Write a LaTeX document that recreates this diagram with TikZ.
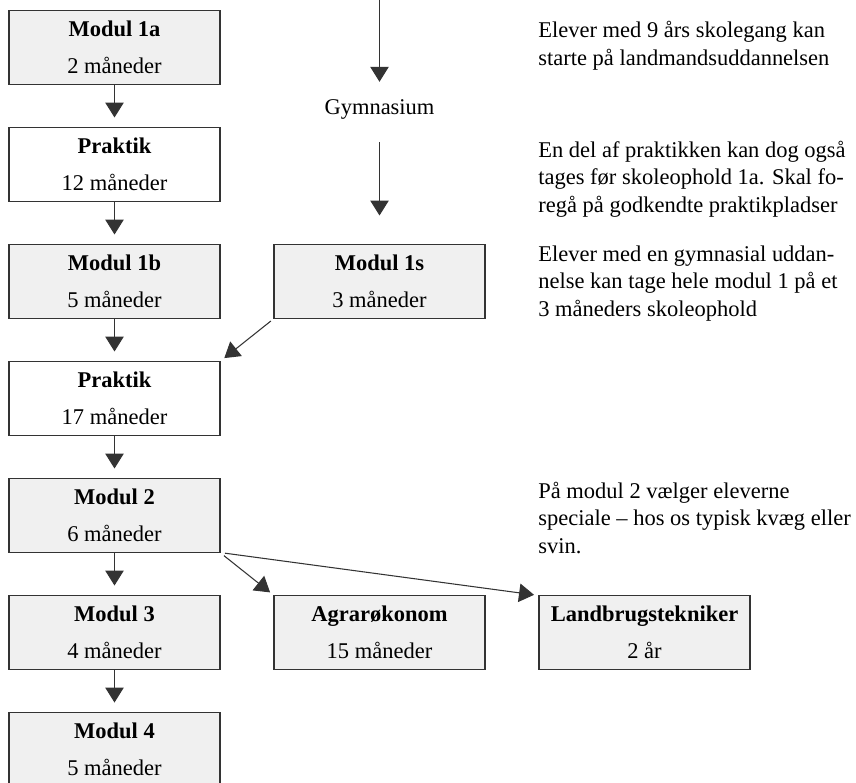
\documentclass[tikz,border=0pt]{standalone}
\usepackage{fontspec}
\setmainfont{Liberation Serif}
\usetikzlibrary{positioning,arrows.meta}
\definecolor{boxgray}{gray}{0.94}
\definecolor{linegray}{gray}{0.2}

\begin{document}
\begin{tikzpicture}[
		box/.style = {
			draw=linegray, rectangle, line width=0.7pt,
			minimum width=4.22cm,
			minimum height=1.48cm,
			outer sep=0cm,
			align=center,
			font=\fontsize{12.8}{15.5}\selectfont
			},
		greybox/.style = {box, fill=boxgray},
		note/.style = {anchor=base west, align=left, inner sep=0cm,
			font=\fontsize{12.8}{15.5}\selectfont},
		arr/.style = {-{Triangle[width=0.37cm,length=0.3cm]}, line width=0.6pt, draw=linegray},
		node distance=0.86cm and 1.08cm
		]
		\useasboundingbox (0,0) rectangle (17.12,-15.64);
		
		% left column
		\node [greybox] (m1a) at (2.29,-0.95) {\textbf{Modul 1a}\\[5.5pt]2 måneder};
		\node [box, below=of m1a] (p1) {\textbf{Praktik}\\[5.5pt]12 måneder};
		\node [greybox, below=of p1] (m1b) {\textbf{Modul 1b}\\[5.5pt]5 måneder};
		\node [box, below=of m1b] (p2) {\textbf{Praktik}\\[5.5pt]17 måneder};
		\node [greybox, below=of p2] (m2) {\textbf{Modul 2}\\[5.5pt]6 måneder};
		\node [greybox, below=of m2] (m3) {\textbf{Modul 3}\\[5.5pt]4 måneder};
		\node [greybox, below=of m3] (m4) {\textbf{Modul 4}\\[5.5pt]5 måneder};
		
		\node [greybox, right=of m1b] (m1s) {\textbf{Modul 1s}\\[5.5pt]3 måneder};
		\node [greybox, right=of m3] (agr) {\textbf{Agrarøkonom}\\[5.5pt]15 måneder};
		\node [greybox, right=of agr] (lt) {\textbf{Landbrugstekniker}\\[5.5pt]2 år};
		
		\node [inner sep=0cm, font=\fontsize{12.8}{15.5}\selectfont] (gym) at (m1s.center |- 0,-2.18) {Gymnasium};
		\coordinate (gtop) at (gym |- 0,0);
		
		\foreach \a/\b in {m1a/p1, p1/m1b, m1b/p2, p2/m2, m2/m3, m3/m4}
			\draw [arr, shorten >=0.2cm] (\a) -- (\b);
		
		\draw [arr, shorten >=0.34cm] (gtop) -- (gym);
		\draw [arr, shorten <=0.46cm, shorten >=0.58cm] (gym) -- (m1s);
		\draw [arr, shorten <=0.08cm, shorten >=0.11cm] (m1s.south west) -- (p2.north east);
		\draw [arr, shorten <=0.1cm, shorten >=0.1cm] (m2.south east) -- (agr.north west);
		\draw [arr, shorten <=0.1cm, shorten >=0.1cm] (m2.south east) -- (lt.north west);
		
		% notes (base = last line)
		\node [note] (n1) at (10.76,-1.30) {Elever med 9 års skolegang kan\\starte på landmandsuddannelsen};
		\node [note] (n2) at (10.76,-4.24) {En del af praktikken kan dog også\\tages før skoleophold 1a. Skal fo-\\regå på godkendte praktikpladser};
		\node [note] (n3) at (10.76,-6.32) {Elever med en gymnasial uddan-\\nelse kan tage hele modul 1 på et\\3 måneders skoleophold};
		\node [note] (n4) at (10.76,-11.06) {På modul 2 vælger eleverne\\speciale -- hos os typisk kvæg eller\\svin.};
		
	\end{tikzpicture}
\end{document}
